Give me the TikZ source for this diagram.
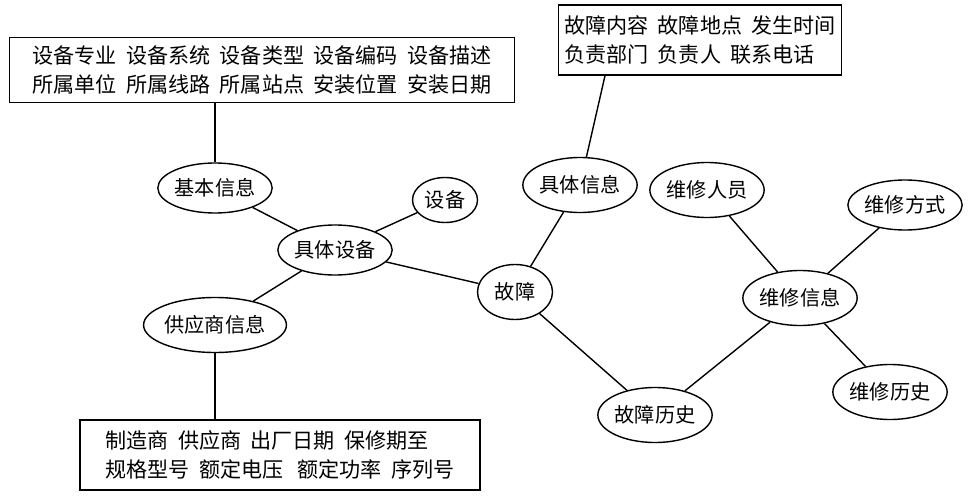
\documentclass[tikz,border=0pt]{standalone}
\usepackage{fontspec}
\setmainfont{Noto Sans CJK SC}
\usetikzlibrary{shapes.geometric}
\begin{document}
\begin{tikzpicture}[x=0.02cm,y=-0.02cm,
  el/.style={draw,ellipse,inner sep=0pt,font=\fontsize{11.5pt}{13pt}\selectfont},
  bx/.style={draw,rectangle,align=left,inner sep=3pt,font=\fontsize{12pt}{16pt}\selectfont},
  every path/.style={line width=0.8pt}]
\useasboundingbox (0,0) rectangle (973,500);
\node[el,minimum width=100*0.02cm,minimum height=50*0.02cm] (jb) at (215,188) {基本信息};
\node[el,minimum width=65*0.02cm,minimum height=45*0.02cm] (sb) at (445,200) {设备};
\node[el,minimum width=110*0.02cm,minimum height=50*0.02cm] (jtsb) at (335,250) {具体设备};
\node[el,minimum width=120*0.02cm,minimum height=55*0.02cm] (gys) at (215,325) {供应商信息};
\node[el,minimum width=75*0.02cm,minimum height=55*0.02cm] (gz) at (515,292) {故障};
\node[el,minimum width=100*0.02cm,minimum height=55*0.02cm] (jtxx) at (580,185) {具体信息};
\node[el,minimum width=100*0.02cm,minimum height=55*0.02cm] (wxry) at (707,190) {维修人员};
\node[el,minimum width=100*0.02cm,minimum height=50*0.02cm] (wxfs) at (905,205) {维修方式};
\node[el,minimum width=110*0.02cm,minimum height=55*0.02cm] (wxxx) at (800,298) {维修信息};
\node[el,minimum width=95*0.02cm,minimum height=55*0.02cm] (wxls) at (890,392) {维修历史};
\node[el,minimum width=110*0.02cm,minimum height=55*0.02cm] (gzls) at (655,415) {故障历史};
\node[bx,minimum width=505*0.02cm,minimum height=65*0.02cm] (b1) at (262,70) {设备专业\ \ 设备系统\ \ 设备类型\ \ 设备编码\ \ 设备描述\\所属单位\ \ 所属线路\ \ 所属站点\ \ 安装位置\ \ 安装日期};
\node[bx,minimum width=280*0.02cm,minimum height=70*0.02cm] (b2) at (700,40) {故障内容\ \ 故障地点\ \ 发生时间\\负责部门\ \ 负责人\ \ 联系电话};
\node[bx,minimum width=400*0.02cm,minimum height=70*0.02cm] (b3) at (280,455) {制造商\ \ 供应商\ \ 出厂日期\ \ 保修期至\\规格型号\ \ 额定电压\ \ \ 额定功率\ \ 序列号};
\draw (b1.south -| jb) -- (jb);
\draw (jb) -- (jtsb);
\draw (sb) -- (jtsb);
\draw (jtsb) -- (gys);
\draw (gys) -- (b3.north -| gys);
\draw (jtsb) -- (gz);
\draw (gz) -- (jtxx);
\draw (jtxx) -- (b2.south -| 605,0);
\draw (gz) -- (gzls);
\draw (gzls) -- (wxxx);
\draw (wxxx) -- (wxry);
\draw (wxxx) -- (wxfs);
\draw (wxxx) -- (wxls);
\end{tikzpicture}
\end{document}
